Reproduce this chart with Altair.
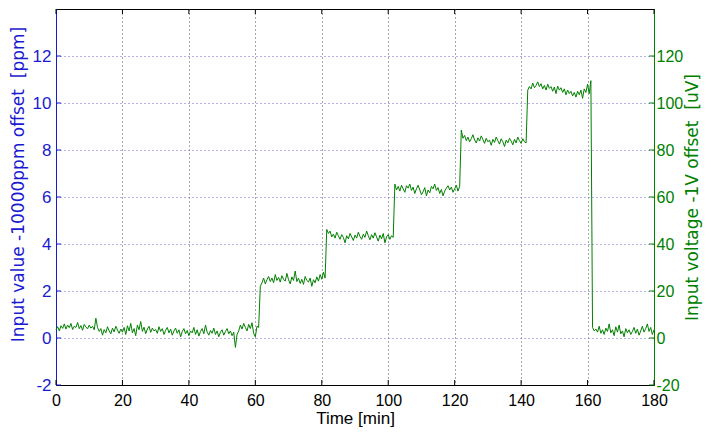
import altair as alt
import pandas as pd

BLUE = "#1a1ad0"
GREEN = "#008000"
FONT = "Liberation Sans"
TFONT = "DejaVu Sans"

seg0 = [0.35, 0.48, 0.30, 0.52, 0.41, 0.60, 0.38, 0.55, 0.44, 0.62, 0.36, 0.50, 0.45, 0.66, 0.40, 0.53, 0.33, 0.58, 0.47, 0.39,
        0.55, 0.42, 0.50, 0.35, 0.84, 0.45, 0.28, 0.40, 0.12, 0.36, 0.22, 0.48, 0.30, 0.18, 0.42, 0.26, 0.50, 0.34, 0.20, 0.38,
        0.25, 0.45, 0.15, 0.52, 0.30, 0.62, 0.22, 0.40, 0.10, 0.55, 0.35, 0.70, 0.28, 0.46, 0.18, 0.38, 0.50, 0.24, 0.42, 0.30,
        0.36, 0.20, 0.48, 0.28, 0.40, 0.15, 0.33, 0.45, 0.22, 0.38, 0.12, 0.30, 0.42, 0.20, 0.35, 0.05, 0.28, 0.40, 0.18, 0.32,
        0.10, 0.30, 0.22, 0.45, 0.15, 0.35, 0.08, 0.28, 0.40, 0.18, 0.55, 0.25, 0.12, 0.32, 0.20, 0.42, 0.15, 0.30, 0.05, 0.25,
        0.35, 0.12, 0.28, 0.40, 0.18, 0.30, 0.10, 0.25, -0.40, 0.15, 0.30, 0.55, 0.38, 0.62, 0.45, 0.30, 0.58, 0.40, 0.65, 0.20,
        0.05, 0.50, 0.45]
seg1 = [2.20, 2.35, 2.55, 2.30, 2.48, 2.62, 2.40, 2.55, 2.35, 2.70, 2.45, 2.58, 2.38, 2.65, 2.50, 2.42, 2.75, 2.48, 2.30, 2.60,
        2.45, 2.85, 2.40, 2.55, 2.32, 2.50, 2.28, 2.62, 2.45, 2.38, 2.55, 2.20, 2.48, 2.35, 2.60, 2.42, 2.70, 2.50, 2.80, 2.55]
seg2 = [4.62, 4.45, 4.55, 4.30, 4.42, 4.25, 4.50, 4.35, 4.20, 4.40, 4.28, 4.05, 4.35, 4.22, 4.45, 4.30, 4.15, 4.38, 4.25, 4.50,
        4.32, 4.20, 4.42, 4.28, 4.55, 4.35, 4.18, 4.40, 4.25, 4.48, 4.30, 4.12, 4.38, 4.22, 4.45, 4.05, 4.30, 4.40, 4.20, 4.35, 4.28]
seg3 = [6.55, 6.30, 6.45, 6.25, 6.50, 6.35, 6.20, 6.48, 6.38, 6.55, 6.28, 6.42, 6.15, 6.35, 6.50, 6.30, 6.10, 6.22, 6.40, 6.05,
        6.30, 6.18, 6.45, 6.35, 6.55, 6.28, 6.40, 6.15, 6.32, 6.05, 6.25, 6.38, 6.48, 6.30, 6.42, 6.20, 6.35, 6.50, 6.25, 6.45]
seg4 = [8.85, 8.50, 8.62, 8.40, 8.55, 8.35, 8.48, 8.65, 8.42, 8.30, 8.52, 8.38, 8.60, 8.45, 8.28, 8.50, 8.35, 8.42, 8.20, 8.45,
        8.32, 8.55, 8.40, 8.25, 8.48, 8.35, 8.15, 8.42, 8.30, 8.50, 8.38, 8.22, 8.45, 8.30, 8.55, 8.40, 8.28, 8.48, 8.35, 8.30]
seg5 = [10.55, 10.70, 10.60, 10.85, 10.65, 10.75, 10.90, 10.70, 10.82, 10.60, 10.75, 10.55, 10.80, 10.62, 10.70, 10.50, 10.68,
        10.40, 10.72, 10.55, 10.65, 10.45, 10.60, 10.35, 10.55, 10.40, 10.50, 10.30, 10.45, 10.25, 10.50, 10.35, 10.55, 10.20,
        10.60, 10.45, 10.80, 10.40, 10.95]
seg6 = [0.45, 0.30, 0.38, 0.25, 0.50, 0.20, 0.35, 0.15, 0.42, 0.28, 0.60, 0.22, 0.35, 0.10, 0.48, 0.25, 0.55, 0.18, 0.30, 0.05,
        0.40, 0.22, 0.35, 0.15, 0.28, 0.45, 0.20, 0.38, 0.12, 0.30, 0.50, 0.25, 0.40, 0.60, 0.28, 0.45, 0.15, 0.35]

values = seg0 + seg1 + seg2 + seg3 + seg4 + seg5 + seg6
times = [i * 0.5 for i in range(len(values))]

x_ticks = [0, 20, 40, 60, 80, 100, 120, 140, 160, 180]
left_ticks = [-2, 0, 2, 4, 6, 8, 10, 12]
right_ticks = [-20, 0, 20, 40, 60, 80, 100, 120]

df = pd.DataFrame({"t": times, "v": values})
W, H = 598, 376
LABEL = "'' + datum.value"

xscale = alt.Scale(domain=[0, 180], nice=False, zero=False)
yscale = alt.Scale(domain=[-2, 14], nice=False, zero=False)

x_axis = alt.Axis(values=x_ticks, title="Time [min]", grid=True, gridColor="#505050",
                  gridDash=[1, 3], domainColor="black", labelColor="black", titleColor="black",
                  ticks=False, labelPadding=7, labelFontSize=16, titlePadding=2,
                  labelFlush=False, labelExpr=LABEL)
y_axis = alt.Axis(values=left_ticks, orient="left",
                  title="Input value -10000ppm offset \u00a0[ppm]",
                  titleFont=TFONT, titleY=175,
                  grid=True, gridColor="#6a6ac8", gridDash=[1, 3],
                  domainColor=BLUE, labelColor=BLUE, titleColor=BLUE,
                  ticks=False, labelPadding=5, titlePadding=5, labelExpr=LABEL)

line = alt.Chart(df).mark_line(color=GREEN, strokeWidth=1).encode(
    x=alt.X("t:Q", scale=xscale, axis=x_axis),
    y=alt.Y("v:Q", scale=yscale, axis=y_axis),
)

lt = alt.Chart(pd.DataFrame({"v": left_ticks})).mark_rule(color=BLUE, strokeWidth=1).encode(
    y=alt.Y("v:Q", scale=yscale, axis=y_axis), x=alt.value(0), x2=alt.value(5))
bt = alt.Chart(pd.DataFrame({"t": x_ticks})).mark_rule(color="black", strokeWidth=1).encode(
    x=alt.X("t:Q", scale=xscale, axis=x_axis), y=alt.value(H), y2=alt.value(H - 5))
tt = alt.Chart(pd.DataFrame({"t": x_ticks})).mark_rule(color="black", strokeWidth=1).encode(
    x=alt.X("t:Q", scale=xscale, axis=x_axis), y=alt.value(0), y2=alt.value(5))

left = alt.layer(line, lt, bt, tt)

rt = alt.Chart(pd.DataFrame({"r": right_ticks})).mark_rule(color=GREEN, strokeWidth=1).encode(
    y=alt.Y("r:Q", scale=alt.Scale(domain=[-20, 140], nice=False, zero=False),
            axis=alt.Axis(values=right_ticks, orient="right",
                          title="Input voltage -1V offset \u00a0[uV]",
                          titleAngle=270, titleBaseline="top", titleFont=TFONT, titleFontSize=17,
                          grid=False, domainColor=GREEN, labelColor=GREEN, titleColor=GREEN,
                          ticks=False, labelPadding=2, labelFontSize=16, titlePadding=2,
                          labelExpr=LABEL)),
    x=alt.value(W - 5), x2=alt.value(W))

chart = alt.layer(left, rt).resolve_scale(y="independent").properties(
    width=W, height=H,
    autosize=alt.AutoSizeParams(type="none"),
    padding={"left": 48, "top": 1, "right": 49, "bottom": 42},
    background="white",
).configure_view(stroke="black", strokeWidth=1).configure_axis(
    labelFont=FONT, titleFont=FONT, labelFontSize=17, titleFontSize=17,
    titleFontWeight="normal", domainWidth=1,
)

chart.save("out.html", embed_options={"renderer": "svg", "actions": False})
